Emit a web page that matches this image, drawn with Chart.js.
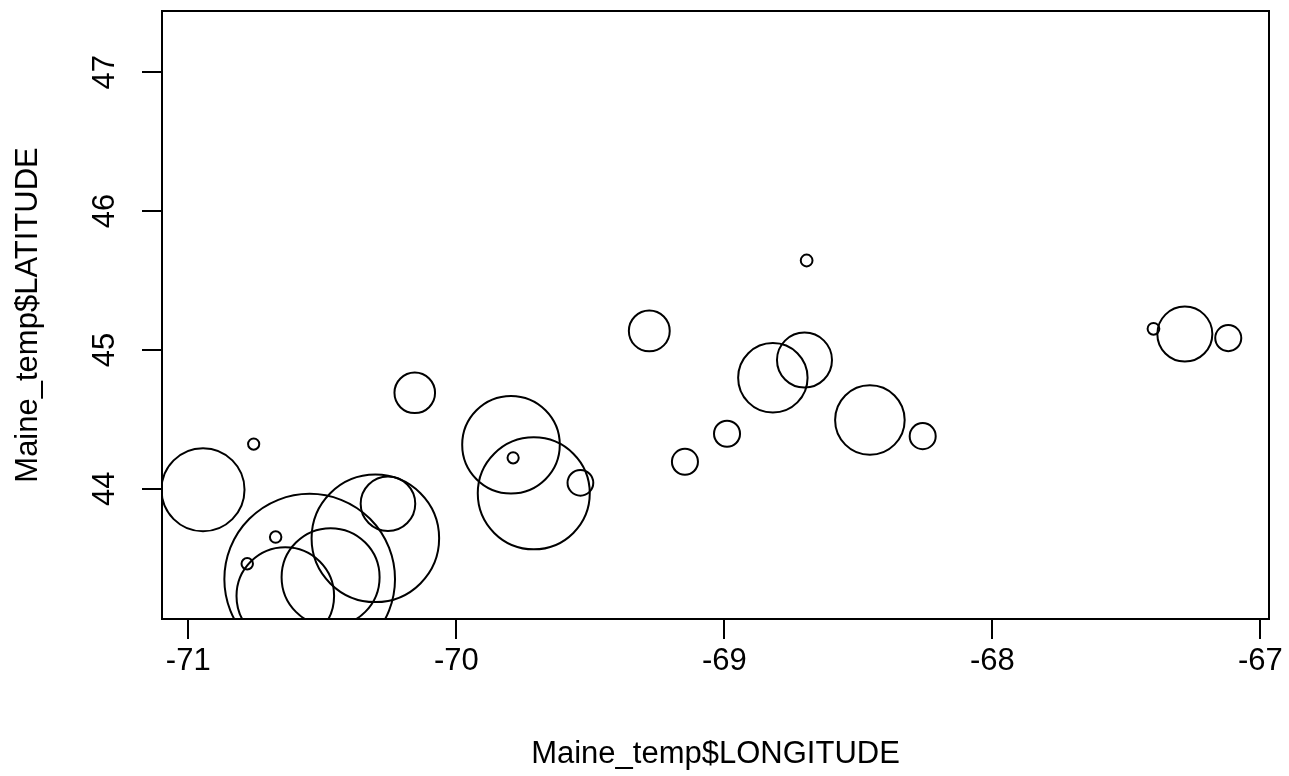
<!DOCTYPE html>
<html>
<head>
<meta charset="utf-8">
<script src="https://cdn.jsdelivr.net/npm/chart.js@4/dist/chart.umd.min.js"></script>
<style>
  html, body { margin: 0; padding: 0; background: #ffffff; }
  #wrap { width: 1289px; height: 776px; position: relative; }
</style>
</head>
<body>
<div id="wrap"><canvas id="c" width="1289" height="776"></canvas></div>
<script>
// ---- data ----
const longitude = [-70.945, -70.756, -70.155, -69.796, -69.788, -69.711, -69.537, -70.255,
                   -70.302, -70.547, -70.469, -70.638, -70.674, -70.780, -69.280, -68.819,
                   -68.701, -68.457, -68.260, -68.990, -69.147, -68.693, -67.399, -67.282, -67.120];
const latitude  = [43.993, 44.322, 44.691, 44.317, 44.223, 43.967, 44.043, 43.892,
                   43.643, 43.349, 43.363, 43.228, 43.652, 43.460, 45.137, 44.799,
                   44.927, 44.495, 44.379, 44.396, 44.194, 45.644, 45.152, 45.114, 45.085];
const sizeValue = [5.93, 0.80, 2.90, 6.97, 0.80, 8.00, 1.84, 3.90,
                   9.11, 12.19, 7.00, 6.97, 0.82, 0.82, 2.92, 4.96,
                   3.93, 4.97, 1.86, 1.86, 1.86, 0.84, 0.84, 3.93, 1.86];
const xTicks = [-71, -70, -69, -68, -67];
const yTicks = [44, 45, 46, 47];
const xTitle = 'Maine_temp$LONGITUDE';
const yTitle = 'Maine_temp$LATITUDE';

// ---- presentation ----
const PX_PER_SIZE = 7;
const FONT = { family: '"Liberation Sans", Arial, Helvetica, sans-serif', size: 31 };

const points = longitude.map((lon, i) => ({ x: lon, y: latitude[i], r: sizeValue[i] * PX_PER_SIZE }));

const boxPlugin = {
  id: 'box',
  afterDraw(chart) {
    const { ctx, chartArea: a } = chart;
    ctx.save();
    ctx.strokeStyle = '#000';
    ctx.lineWidth = 2;
    ctx.strokeRect(a.left, a.top, a.right - a.left, a.bottom - a.top);
    ctx.restore();
  }
};

new Chart(document.getElementById('c'), {
  type: 'bubble',
  data: {
    datasets: [{
      data: points,
      backgroundColor: 'rgba(0,0,0,0)',
      borderColor: '#000',
      borderWidth: 2,
      hoverBorderWidth: 2,
      clip: 0
    }]
  },
  options: {
    responsive: false,
    animation: false,
    events: [],
    layout: { autoPadding: false, padding: { left: 0, right: 20, top: 11, bottom: 0 } },
    plugins: { legend: { display: false }, tooltip: { enabled: false } },
    scales: {
      x: {
        type: 'linear',
        position: 'bottom',
        min: -71.098,
        max: -66.968,
        afterBuildTicks: s => { s.ticks = xTicks.map(v => ({ value: v })); },
        afterFit: s => { s.height = 157; s.paddingLeft = 0; s.paddingRight = 0; },
        grid: { display: true, drawOnChartArea: false, drawTicks: true, tickLength: 20, color: '#000', lineWidth: 2 },
        border: { display: false },
        ticks: { color: '#000', font: FONT, padding: 4, maxRotation: 0, autoSkip: false },
        title: { display: true, text: xTitle, color: '#000', font: FONT, padding: { top: 0, bottom: 3 } }
      },
      y: {
        type: 'linear',
        position: 'left',
        min: 43.062,
        max: 47.441,
        afterBuildTicks: s => { s.ticks = yTicks.map(v => ({ value: v })); },
        afterFit: s => { s.width = 162; s.paddingTop = 0; s.paddingBottom = 0; },
        grid: { display: true, drawOnChartArea: false, drawTicks: true, tickLength: 20, color: '#000', lineWidth: 2 },
        border: { display: false },
        ticks: { color: '#000', font: FONT, padding: 19, minRotation: 90, maxRotation: 90, crossAlign: 'center', autoSkip: false },
        title: { display: true, text: yTitle, color: '#000', font: FONT, padding: { top: 10, bottom: 0 } }
      }
    }
  },
  plugins: [boxPlugin]
});
</script>
</body>
</html>
